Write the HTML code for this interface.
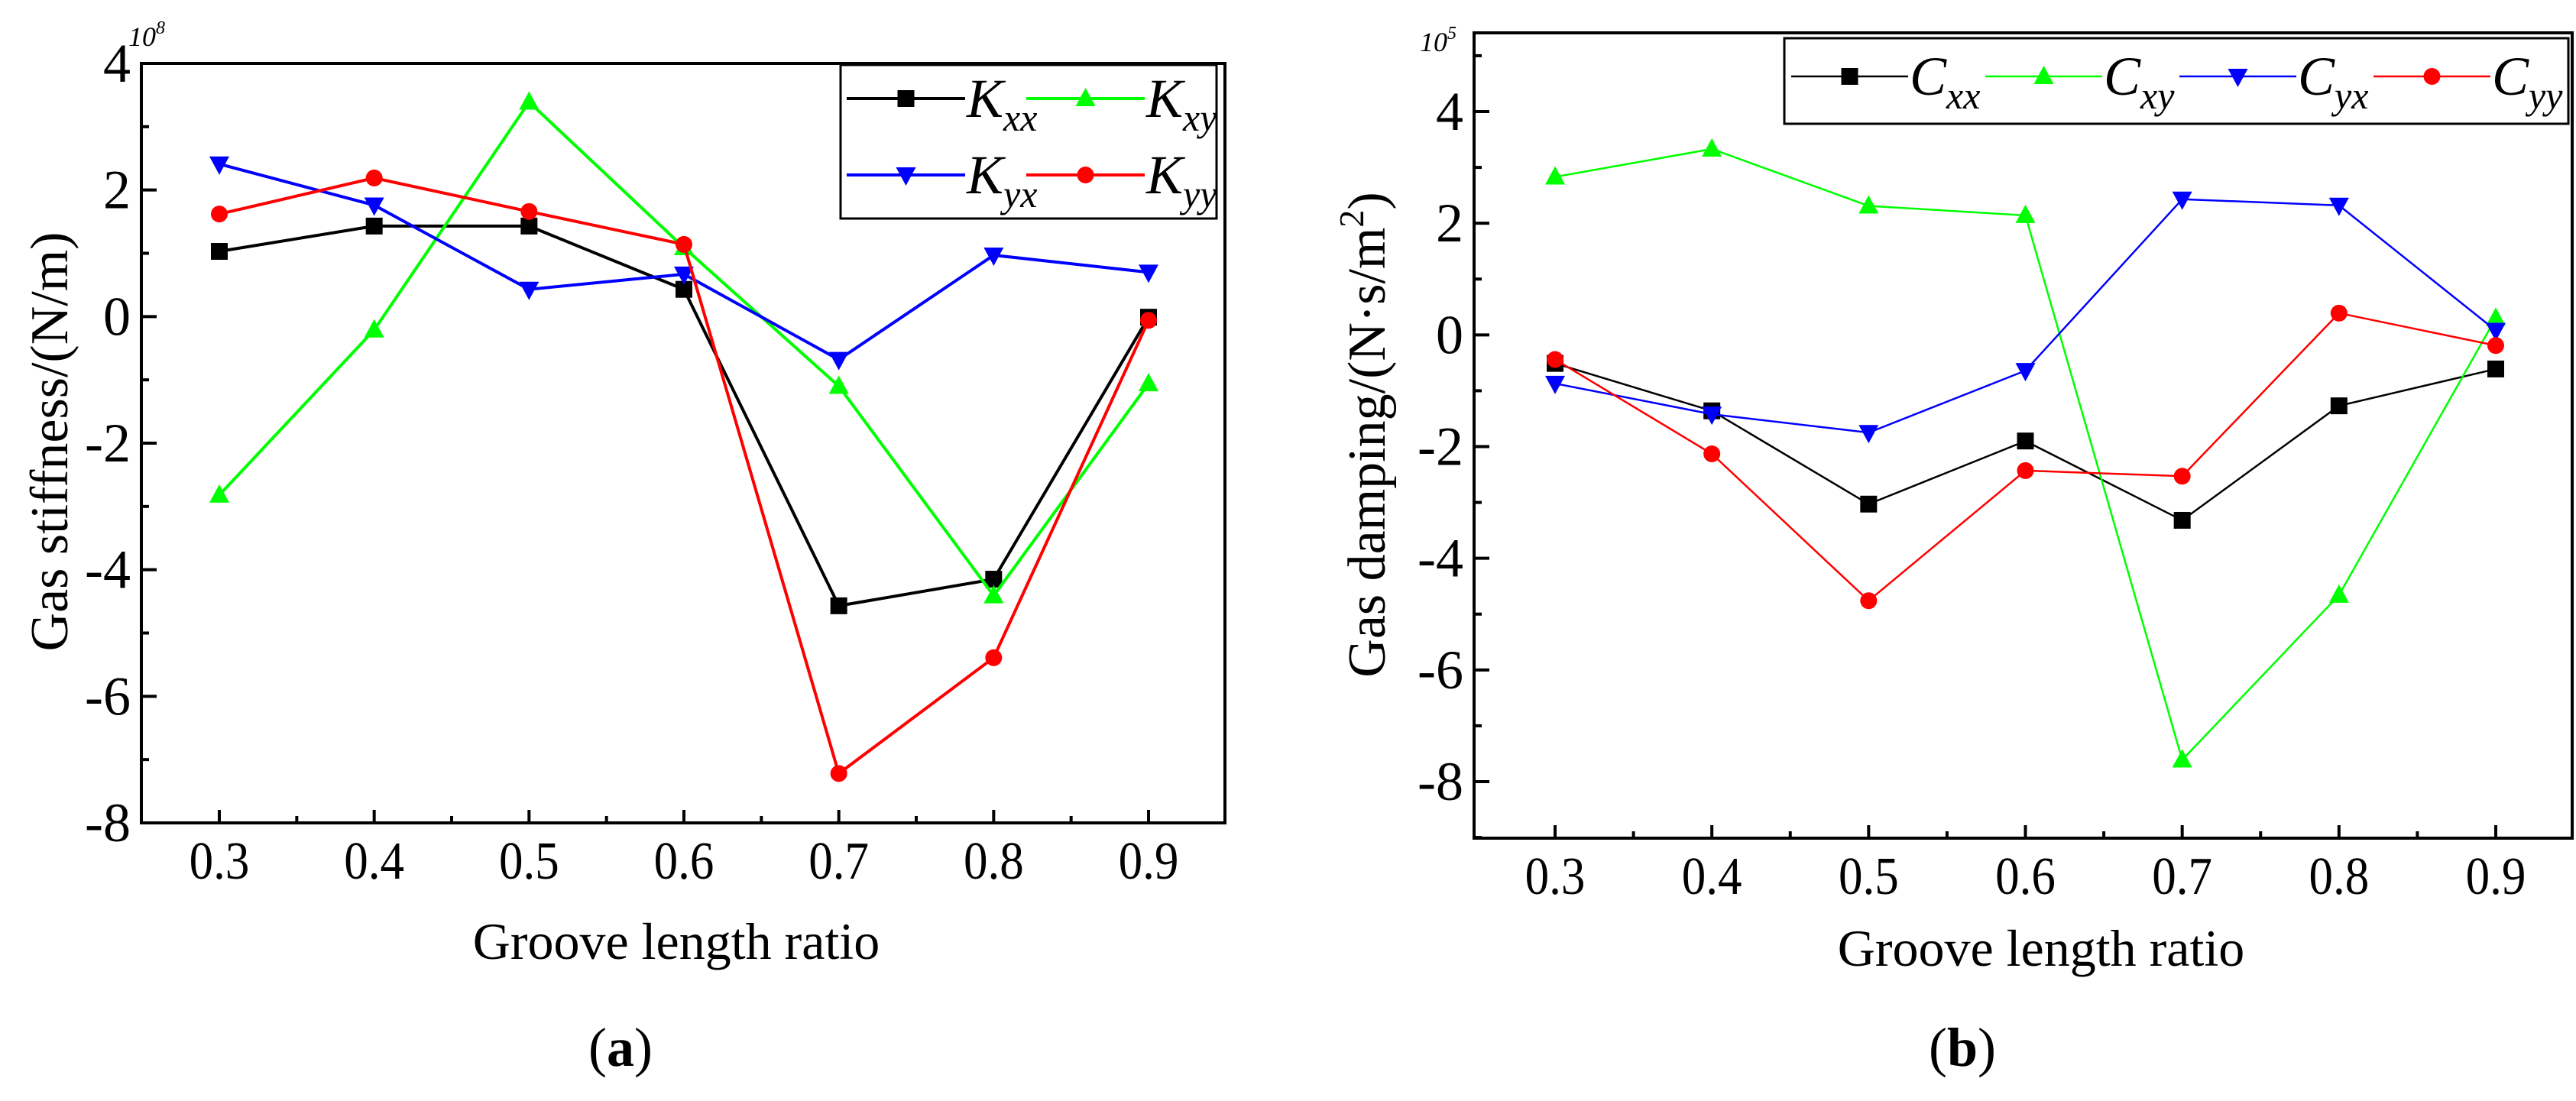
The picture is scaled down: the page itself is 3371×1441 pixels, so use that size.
<!DOCTYPE html>
<html><head><meta charset="utf-8"><style>
html,body{margin:0;padding:0;background:#fff;}
svg{display:block;}
svg text{font-family:"Liberation Serif","Times New Roman",serif !important;}
</style></head><body>
<svg id="fig" width="3371" height="1441" viewBox="0 0 3371 1441" xmlns="http://www.w3.org/2000/svg" font-family="Liberation Serif, serif"></svg>
<script>
const xCats = [0.3,0.4,0.5,0.6,0.7,0.8,0.9];
const xTickLabels = ["0.3","0.4","0.5","0.6","0.7","0.8","0.9"];
const kxx = [1.03,1.43,1.43,0.43,-4.57,-4.15,-0.01];
const kxy = [-2.82,-0.21,3.39,1.09,-1.10,-4.41,-1.06];
const kyx = [2.41,1.76,0.43,0.67,-0.68,0.97,0.70];
const kyy = [1.62,2.19,1.66,1.14,-7.22,-5.39,-0.06];
const aYTicks = [4,2,0,-2,-4,-6,-8];
const cxx = [-0.51,-1.36,-3.03,-1.90,-3.32,-1.27,-0.61];
const cxy = [2.83,3.33,2.31,2.14,-7.61,-4.66,0.30];
const cyx = [-0.87,-1.42,-1.75,-0.64,2.43,2.32,0.08];
const cyy = [-0.44,-2.13,-4.76,-2.43,-2.53,0.39,-0.19];
const bYTicks = [4,2,0,-2,-4,-6,-8];

const NS="http://www.w3.org/2000/svg";
const svg=document.getElementById('fig');
const FF='Liberation Serif, serif';
function mk(tag,attrs,parent){const e=document.createElementNS(NS,tag);for(const k in attrs)e.setAttribute(k,attrs[k]);if(tag==='text')e.setAttribute('font-family',FF);(parent||svg).appendChild(e);return e;}

function chart(cfg){
  const g=mk('g',{});
  
  
  const L=cfg.left,R=cfg.right,T=cfg.top,B=cfg.bottom;
  const xs=v=>cfg.x0px+(v-0.3)/(0.6)*(cfg.x9px-cfg.x0px);
  const ys=v=>cfg.y4px+(4-v)/12*(cfg.ym8px-cfg.y4px);
  const frame=mk('rect',{x:L,y:T,width:R-L,height:B-T,fill:'none',stroke:'#000','stroke-width':4},g);
  
  
  for(let i=0;i<xCats.length;i++){
    const x=xs(xCats[i]);
    mk('line',{x1:x,y1:B,x2:x,y2:B-17,stroke:'#000','stroke-width':4},g);
    if(i<xCats.length-1){const xm=xs(xCats[i]+0.05);mk('line',{x1:xm,y1:B,x2:xm,y2:B-9,stroke:'#000','stroke-width':4},g);}
    const t=mk('text',{x:x,y:B+73,'font-size':70,'text-anchor':'middle',transform:`translate(${x},0) scale(0.9,1) translate(${-x},0)`},g);
    t.textContent=xTickLabels[i];
    
    
  }
  for(let v=-9;v<=5;v++){
    const y=ys(v); if(y<T-1||y>B+1)continue;
    const major=cfg.yTicks.includes(v);
    mk('line',{x1:L,y1:y,x2:L+(major?20:10),y2:y,stroke:'#000','stroke-width':4},g);
    if(major){
      const t=mk('text',{x:L-14,y:y+24,'font-size':72,'text-anchor':'end'},g);
      t.textContent=String(v);
      
      
    }
  }
  const ex=mk('text',{x:cfg.expX,y:cfg.expY,'font-size':36,'font-style':'italic'},g);
  ex.innerHTML='10<tspan dy="-16" font-size="24">'+cfg.exp+'</tspan>';
  
  
  cfg.series.forEach(s=>{
    const sg=mk('g',{},g);
    
    
    const pts=s.data.map((v,i)=>xs(xCats[i])+','+ys(v)).join(' ');
    mk('polyline',{points:pts,fill:'none',stroke:s.color,'stroke-width':cfg.lw},sg);
    s.data.forEach((v,i)=>{
      const m=marker(s.shape,xs(xCats[i]),ys(v),s.color,sg);
      
      
    });
  });
  const lg=mk('g',{},g);
  
  
  mk('rect',{x:cfg.lgBox[0],y:cfg.lgBox[1],width:cfg.lgBox[2],height:cfg.lgBox[3],fill:'#fff',stroke:'#000','stroke-width':3},lg);
  cfg.series.forEach((s,i)=>{
    const p=cfg.lgPos[i];
    const eg=mk('g',{},lg);
    
    
    mk('line',{x1:p[0],y1:p[1],x2:p[0]+cfg.lgLen,y2:p[1],stroke:s.color,'stroke-width':cfg.lw},eg);
    marker(s.shape,p[0]+cfg.lgLen/2,p[1],s.color,eg);
    const t=mk('text',{x:p[0]+cfg.lgLen+2,y:p[1]+24,'font-size':72,'font-style':'italic'},eg);
    t.innerHTML=cfg.sym+'<tspan dy="18" font-size="50">'+s.sub+'</tspan>';
  });
  const xl=mk('text',{x:cfg.xlX,y:cfg.xlY,'font-size':68,'text-anchor':'middle'},g);
  xl.textContent='Groove length ratio';
  
  
  const yl=mk('text',{x:0,y:0,'font-size':70,'text-anchor':'middle',transform:`translate(${cfg.ylX},${cfg.ylY}) rotate(-90)`},g);
  yl.innerHTML=cfg.ylabel;
  
  
  const cap=mk('text',{x:cfg.capX,y:1395,'font-size':72,'text-anchor':'middle'},g);
  cap.innerHTML='(<tspan font-weight="bold">'+cfg.cap+'</tspan>)';
  
  
}
function marker(shape,x,y,c,p){
  const r=12;
  if(shape==='sq')return mk('rect',{x:x-r+1,y:y-r+1,width:2*r-2,height:2*r-2,fill:c},p);
  if(shape==='up')return mk('polygon',{points:`${x},${y-r-2} ${x+r+1},${y+r-2} ${x-r-1},${y+r-2}`,fill:c},p);
  if(shape==='dn')return mk('polygon',{points:`${x},${y+r+2} ${x+r+1},${y-r+2} ${x-r-1},${y-r+2}`,fill:c},p);
  return mk('circle',{cx:x,cy:y,r:r-1,fill:c},p);
}
chart({name:'chart-a-stiffness',left:185,right:1603,top:83,bottom:1077,x0px:287,x9px:1503,y4px:83,ym8px:1077,
  yTicks:aYTicks,exp:'8',expX:168,expY:60,lw:4,sym:'K',
  series:[{label:'Kxx',sub:'xx',data:kxx,color:'#000',shape:'sq'},{label:'Kxy',sub:'xy',data:kxy,color:'#00ff00',shape:'up'},
          {label:'Kyx',sub:'yx',data:kyx,color:'#0000ff',shape:'dn'},{label:'Kyy',sub:'yy',data:kyy,color:'#ff0000',shape:'ci'}],
  lgBox:[1100,85,492,201],lgPos:[[1108,129],[1343,129],[1108,229],[1343,229]],lgLen:155,
  xlX:885,xlY:1255,ylX:88,ylY:578,ylabel:'Gas stiffness/(N/m)',capX:812,cap:'a'});
chart({name:'chart-b-damping',left:1929,right:3366,top:43,bottom:1097,x0px:2035,x9px:3266,y4px:146,ym8px:1023,
  yTicks:bYTicks,exp:'5',expX:1858,expY:67,lw:2.5,sym:'C',
  series:[{label:'Cxx',sub:'xx',data:cxx,color:'#000',shape:'sq'},{label:'Cxy',sub:'xy',data:cxy,color:'#00ff00',shape:'up'},
          {label:'Cyx',sub:'yx',data:cyx,color:'#0000ff',shape:'dn'},{label:'Cyy',sub:'yy',data:cyy,color:'#ff0000',shape:'ci'}],
  lgBox:[2335,50,1026,112],lgPos:[[2344,100],[2598,100],[2852,100],[3106,100]],lgLen:153,
  xlX:2671,xlY:1264,ylX:1812,ylY:569,ylabel:'Gas damping/(N·s/m<tspan dy="-28" font-size="46">2</tspan><tspan dy="28">)</tspan>',capX:2568,cap:'b'});
</script>
</body></html>
